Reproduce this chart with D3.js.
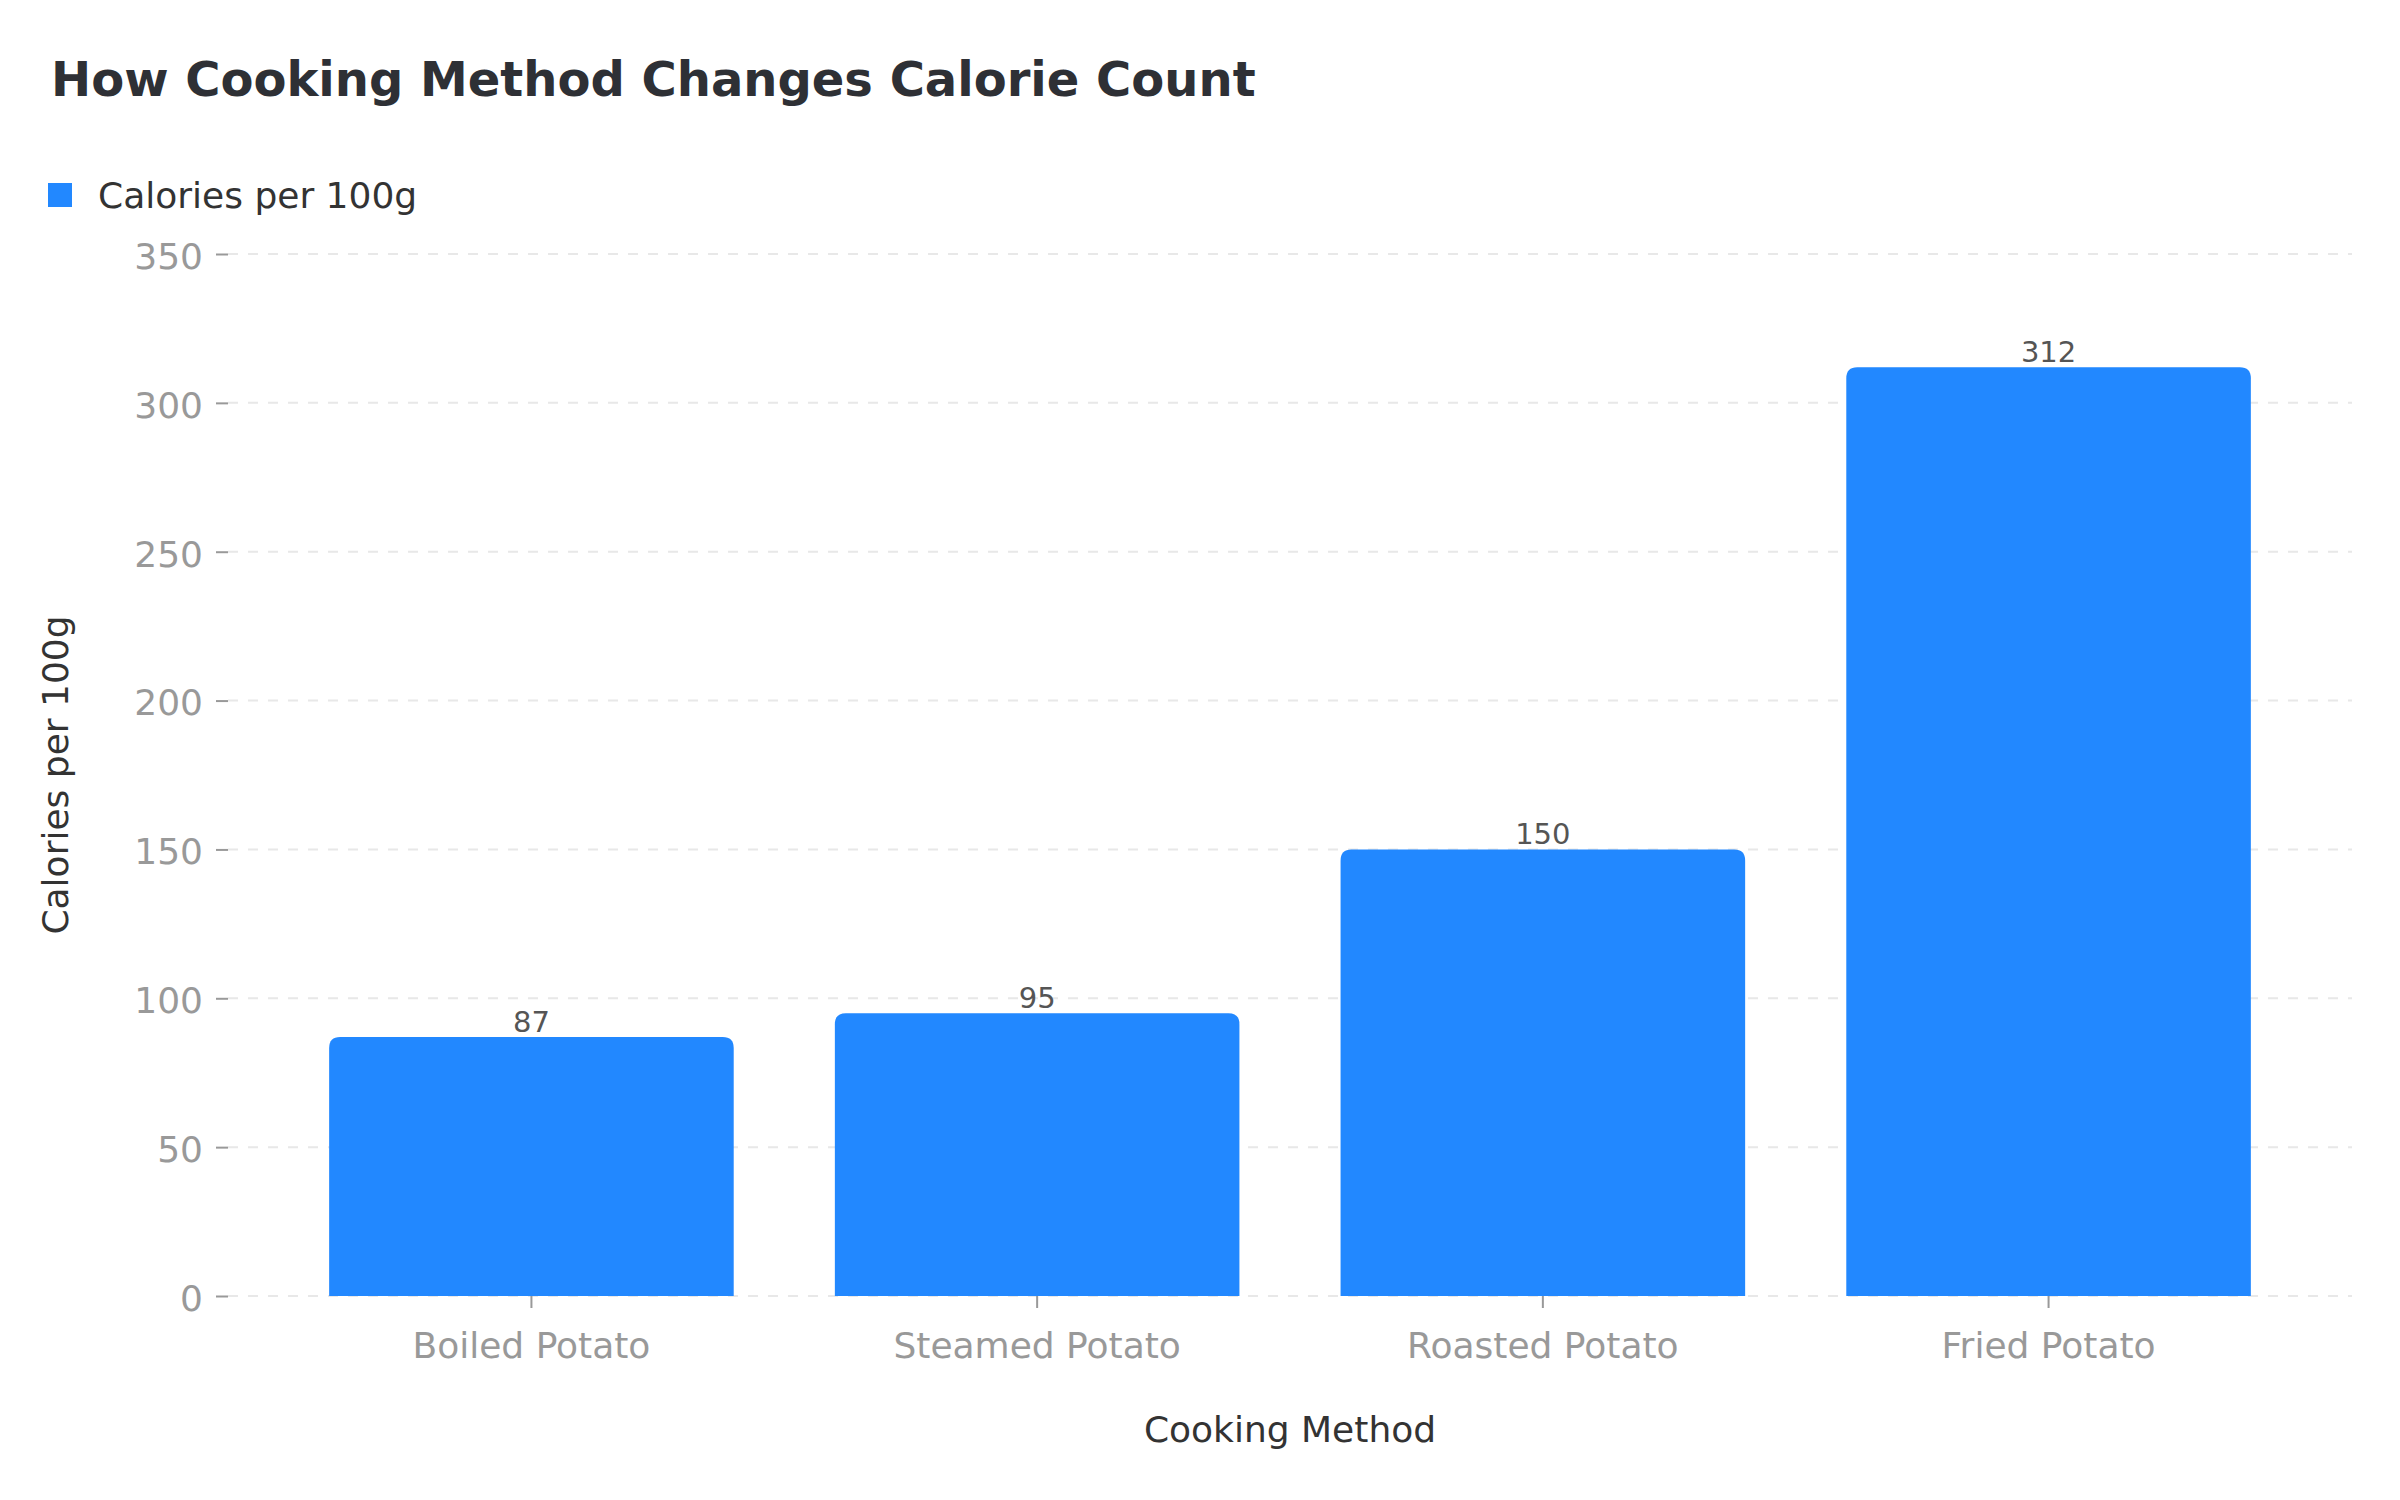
<!DOCTYPE html>
<html>
<head>
<meta charset="utf-8">
<script src="https://cdn.jsdelivr.net/npm/d3@7"></script>
<style>
  body { margin: 0; background: #fff; }
  svg { display: block; font-family: "DejaVu Sans", sans-serif; }
</style>
</head>
<body>
<svg id="chart" width="2400" height="1500"></svg>
<script>
// chart data
const categories = ["Boiled Potato", "Steamed Potato", "Roasted Potato", "Fried Potato"];
const calories = [87, 95, 150, 312];
const yTicks = [0, 50, 100, 150, 200, 250, 300, 350];

const barColor = "#2288ff";
const plotLeft = 228, plotRight = 2352, plotTop = 254, plotBottom = 1296;

const svg = d3.select("#chart");

const x = d3.scaleBand()
  .domain(categories)
  .range([plotLeft, plotRight])
  .paddingInner(0.2)
  .paddingOuter(0.2);

const y = d3.scaleLinear()
  .domain([0, 350])
  .range([plotBottom, plotTop]);

// dashed grid lines
svg.append("g").selectAll("line").data(yTicks).enter().append("line")
  .attr("x1", plotLeft)
  .attr("x2", plotRight)
  .attr("y1", d => y(d))
  .attr("y2", d => y(d))
  .attr("stroke", "#e8e8e8")
  .attr("stroke-width", 2)
  .attr("stroke-dasharray", "10,10");

// y axis
const yAxis = svg.append("g")
  .attr("transform", "translate(" + plotLeft + ",0)")
  .call(d3.axisLeft(y).tickValues(yTicks).tickSize(12).tickPadding(13));
yAxis.select(".domain").remove();
yAxis.selectAll(".tick line").attr("stroke", "#999").attr("stroke-width", 2);
yAxis.selectAll(".tick text")
  .attr("fill", "#999")
  .attr("dy", "0.4em")
  .style("font-size", "36px")
  .style("font-family", "DejaVu Sans");

// x axis
const xAxis = svg.append("g")
  .attr("transform", "translate(0," + plotBottom + ")")
  .call(d3.axisBottom(x).tickSize(12).tickPadding(24));
xAxis.select(".domain").remove();
xAxis.selectAll(".tick line").attr("stroke", "#999").attr("stroke-width", 2);
xAxis.selectAll(".tick text")
  .attr("fill", "#999")
  .style("font-size", "36px")
  .style("font-family", "DejaVu Sans");

// bars, rounded on top only
function barPath(x0, w, yTop, yBase, r) {
  r = Math.min(r, w / 2, yBase - yTop);
  return "M" + x0 + "," + yBase +
    "V" + (yTop + r) +
    "Q" + x0 + "," + yTop + " " + (x0 + r) + "," + yTop +
    "H" + (x0 + w - r) +
    "Q" + (x0 + w) + "," + yTop + " " + (x0 + w) + "," + (yTop + r) +
    "V" + yBase + "Z";
}

svg.append("g").selectAll("path").data(calories).enter().append("path")
  .attr("d", (d, i) => barPath(x(categories[i]), x.bandwidth(), y(d), y(0), 11))
  .attr("fill", barColor);

// value labels
svg.append("g").selectAll("text").data(calories).enter().append("text")
  .attr("x", (d, i) => x(categories[i]) + x.bandwidth() / 2)
  .attr("y", d => y(d) - 5)
  .attr("text-anchor", "middle")
  .attr("fill", "#555")
  .style("font-size", "29px")
  .text(d => d);

// title
svg.append("text")
  .attr("x", 51)
  .attr("y", 96)
  .attr("fill", "#2e3035")
  .style("font-size", "48px")
  .style("font-weight", "bold")
  .text("How Cooking Method Changes Calorie Count");

// legend
svg.append("rect")
  .attr("x", 48)
  .attr("y", 183)
  .attr("width", 24)
  .attr("height", 24)
  .attr("fill", barColor);
svg.append("text")
  .attr("x", 98)
  .attr("y", 208)
  .attr("fill", "#333")
  .style("font-size", "36px")
  .text("Calories per 100g");

// axis titles
svg.append("text")
  .attr("transform", "translate(68," + ((plotTop + plotBottom) / 2) + ") rotate(-90)")
  .attr("text-anchor", "middle")
  .attr("fill", "#333")
  .style("font-size", "36px")
  .text("Calories per 100g");

svg.append("text")
  .attr("x", (plotLeft + plotRight) / 2)
  .attr("y", 1442)
  .attr("text-anchor", "middle")
  .attr("fill", "#333")
  .style("font-size", "36px")
  .text("Cooking Method");
</script>
</body>
</html>
